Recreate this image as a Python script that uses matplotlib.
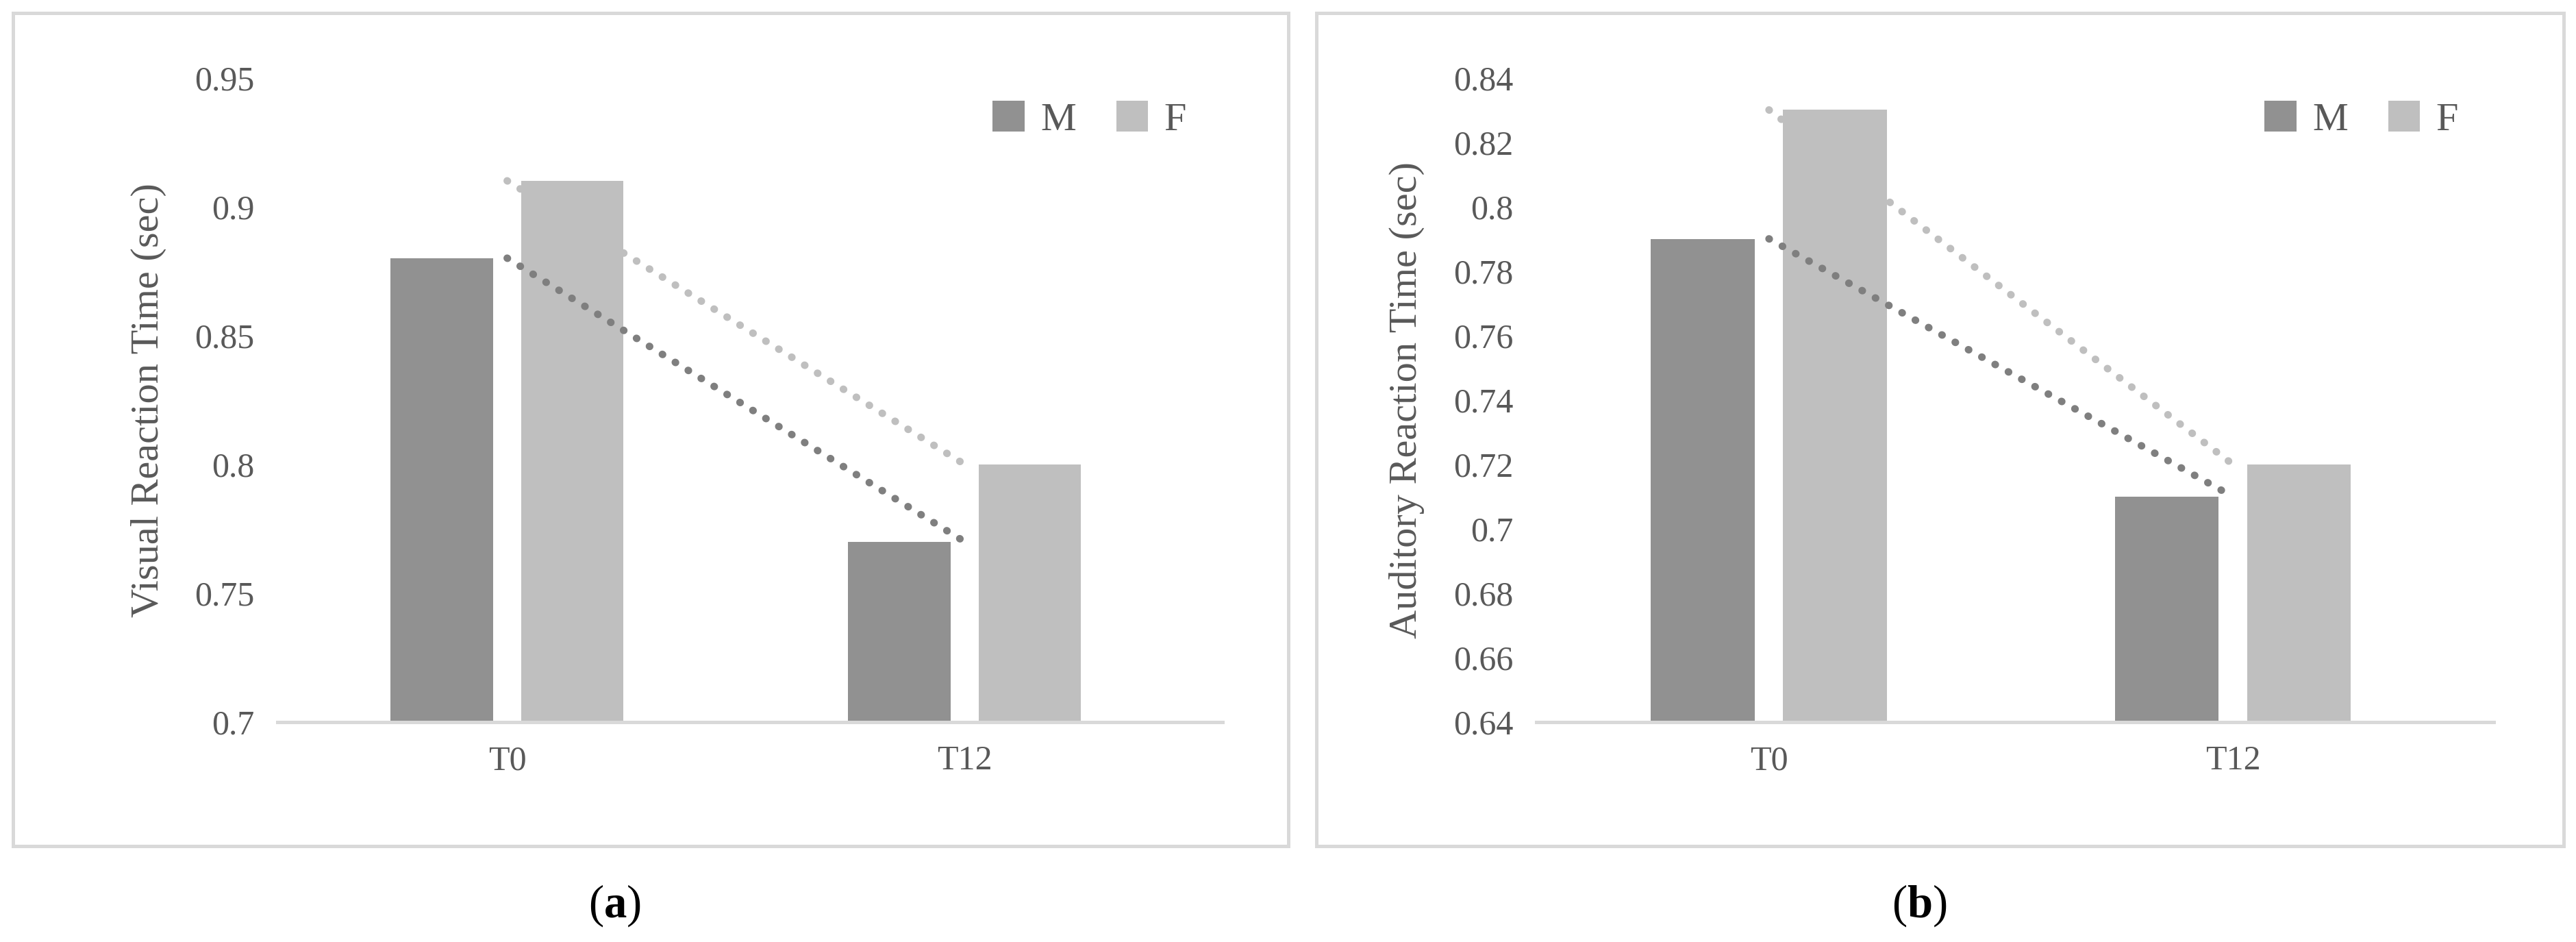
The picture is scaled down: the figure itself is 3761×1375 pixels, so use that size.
import matplotlib
matplotlib.use("Agg")
import matplotlib.pyplot as plt
from matplotlib.patches import Rectangle
import numpy as np

plt.rcParams['font.family'] = ['Liberation Serif', 'DejaVu Serif']
plt.rcParams['mathtext.fontset'] = 'custom'
plt.rcParams['mathtext.rm'] = 'Liberation Serif'
plt.rcParams['mathtext.bf'] = 'Liberation Serif:bold'

categories = ["T0", "T12"]
visual_M = [0.88, 0.77]
visual_F = [0.91, 0.80]
audit_M = [0.79, 0.71]
audit_F = [0.83, 0.72]

W, H = 3762, 1375
fig = plt.figure(figsize=(W/300, H/300), dpi=300)

cM, cF = "#919191", "#bfbfbf"
lM, lF = "#7f7f7f", "#bfbfbf"

def panel(left, right, border, M, F, ylim, step, ylabel, label, labx):
    bx0, bx1 = border
    fig.patches.append(Rectangle((bx0, 1-512/570), bx1-bx0, (512-8)/570,
                                 transform=fig.transFigure, fill=False,
                                 edgecolor="#d9d9d9", lw=1.2))
    ax = fig.add_axes([left, 1-437/570, right-left, (437-47)/570])
    x = np.arange(len(categories))
    w = 0.224; g = 0.061; off = (w+g)/2
    ax.bar(x-off, M, w, color=cM, label="M")
    ax.bar(x+off, F, w, color=cF, label="F")
    ax.plot(x, M, ls=(0, (0.05, 2.0)), color=lM, lw=2.6, dash_capstyle='round')
    ax.plot(x, F, ls=(0, (0.05, 2.0)), color=lF, lw=2.6, dash_capstyle='round')
    ax.set_xlim(-0.502, 1.563)
    ax.set_ylim(*ylim)
    yt = np.arange(ylim[0], ylim[1]+step/2, step)
    ax.set_yticks(yt)
    ax.set_yticklabels([f"{v:.2f}".rstrip('0').rstrip('.') for v in yt])
    ax.set_xticks(x)
    ax.set_xticklabels(categories)
    for s in ["top", "right", "left"]:
        ax.spines[s].set_visible(False)
    ax.spines["bottom"].set_color("#d9d9d9")
    ax.spines["bottom"].set_linewidth(1.2)
    ax.tick_params(length=0, labelsize=12, colors="#595959", pad=8)
    ax.set_ylabel(ylabel, fontsize=14, color="#595959", labelpad=10)
    ax.legend(loc="upper right", frameon=False, fontsize=14, ncol=2,
              handlelength=0.8, handleheight=0.8, columnspacing=1.0,
              handletextpad=0.4, labelcolor="#595959", bbox_to_anchor=(1.0, 1.02))
    fig.text(labx, 1-548/570, r"($\mathbf{%s}$)" % label, fontsize=16,
             ha="center", va="center")

panel(168/1560, 740/1560, (8/1560, 780/1560), visual_M, visual_F, (0.7, 0.95), 0.05,
      "Visual Reaction Time (sec)", "a", 372/1560)
panel(930/1560, 1510/1560, (797/1560, 1552/1560), audit_M, audit_F, (0.64, 0.84), 0.02,
      "Auditory Reaction Time (sec)", "b", 1162/1560)

fig.savefig("out.png", dpi=300)
